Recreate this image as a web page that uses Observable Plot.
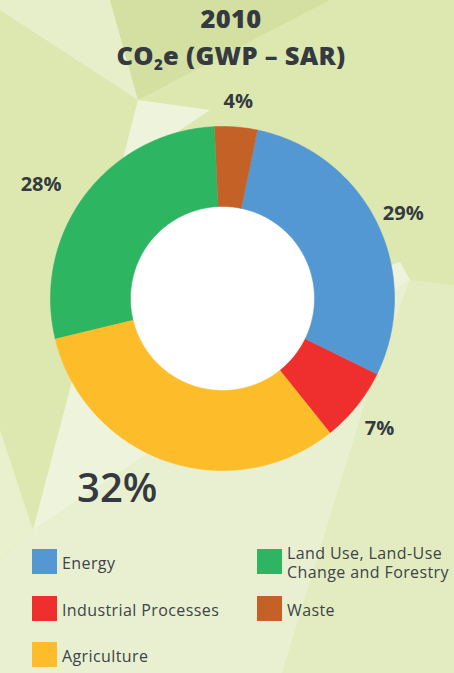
<!DOCTYPE html>
<html><head><meta charset="utf-8">
<script src="https://cdn.jsdelivr.net/npm/d3@7"></script>
<script src="https://cdn.jsdelivr.net/npm/@observablehq/plot@0.6"></script>
<style>
html,body{margin:0;padding:0;background:#dde8b0;}
body{width:454px;height:673px;overflow:hidden;font-family:"Open Sans",sans-serif;color:#343a40;}
#wrap{position:relative;width:454px;height:673px;}
#bg,#chart{position:absolute;left:0;top:0;}
#title{position:absolute;left:0;width:462px;top:0px;text-align:center;font-weight:800;font-size:25.5px;line-height:37px;letter-spacing:0.3px;color:#343a40;}
#title sub{font-size:15px;vertical-align:-5px;line-height:0;}
.item{position:absolute;display:flex;align-items:center;font-size:16px;line-height:19px;letter-spacing:0.4px;color:#3d4348;}
.item .tx{padding-top:3px;}
.sw{width:25px;height:25px;margin-right:5px;flex:none;}
</style>
</head><body>
<div id="wrap">
<svg id="bg" width="454" height="673">
  <rect width="454" height="673" fill="#dde8b0"/>
  <polygon points="0,0 110,0 138,100 0,10" fill="#e6efc9"/>
  <polygon points="110,0 330,0 138,100" fill="#d4e0a2"/>
  <polygon points="138,100 210,110 120,170" fill="#eef4dc"/>
  <polygon points="410,280 454,285 454,673 282,673 372,380" fill="#e3ecc0"/>
  <polygon points="33,530 75,370 400,262 410,280" fill="#eef4dc"/>
  <polygon points="33,530 410,280 372,380 282,673 0,673 0,560" fill="#e9f0d1"/>
  <polygon points="0,430 33,530 0,560" fill="#e8f0cd"/>
</svg>
<div id="chart"></div>
<div id="title">2010<br>CO<sub>2</sub>e (GWP – SAR)</div>
<div id="legend"></div>
</div>
<script>
const categories = ["Energy", "Industrial Processes", "Agriculture", "Land Use, Land-Use Change and Forestry", "Waste"];
const shares = [29, 7, 32, 28, 4];
const labels = ["29%", "7%", "32%", "28%", "4%"];
const colors = ["#5398d3", "#ee2f2d", "#fdbc29", "#2db562", "#c36126"];
const legendOrder = ["Energy", "Land Use, Land-Use Change and Forestry", "Industrial Processes", "Waste", "Agriculture"];

const W = 454, H = 673, cx = 222, cy = 298, R = 172;
const startAngle = 11.7 * Math.PI / 180;
const innerR = 0.535, labelR = 1.17;

const arcs = d3.pie().sort(null).startAngle(startAngle).endAngle(startAngle + 2 * Math.PI)(shares);
const ring = [];
arcs.forEach((a, i) => {
  const n = Math.max(4, Math.ceil((a.endAngle - a.startAngle) / 0.01));
  for (let k = 0; k <= n; k++) {
    const t = a.startAngle + (a.endAngle - a.startAngle) * k / n;
    ring.push({cat: categories[i], x: Math.sin(t), y: Math.cos(t)});
  }
  for (let k = n; k >= 0; k--) {
    const t = a.startAngle + (a.endAngle - a.startAngle) * k / n;
    ring.push({cat: categories[i], x: innerR * Math.sin(t), y: innerR * Math.cos(t)});
  }
});
const hole = d3.range(0, 361, 2).map(d => ({x: innerR * Math.sin(d * Math.PI / 180), y: innerR * Math.cos(d * Math.PI / 180)}));
const maxShare = d3.max(shares);
const lab = arcs.map((a, i) => {
  const m = (a.startAngle + a.endAngle) / 2;
  return {text: labels[i], x: labelR * Math.sin(m), y: labelR * Math.cos(m), left: Math.sin(m) < 0, big: shares[i] === maxShare};
});
const txt = {x: "x", y: "y", text: "text", fill: "#343a40", fontFamily: "Open Sans", dy: 4};

const plot = Plot.plot({
  width: W, height: H, margin: 0,
  x: {type: "linear", domain: [-cx / R, (W - cx) / R], range: [0, W], axis: null},
  y: {type: "linear", domain: [-(H - cy) / R, cy / R], range: [H, 0], axis: null},
  color: {domain: categories, range: colors},
  style: {background: "transparent"},
  marks: [
    Plot.line(hole, {x: "x", y: "y", fill: "white", stroke: "white", strokeWidth: 1}),
    Plot.line(ring, {x: "x", y: "y", z: "cat", fill: "cat", stroke: "cat", strokeWidth: 0.6, curve: "linear"}),
    Plot.text(lab.filter(d => !d.left && !d.big), {...txt, textAnchor: "middle", fontSize: 20, fontWeight: 700}),
    Plot.text(lab.filter(d => d.left && !d.big), {...txt, textAnchor: "end", fontSize: 20, fontWeight: 700, dy: 7}),
    Plot.text(lab.filter(d => d.big), {...txt, textAnchor: "end", fontSize: 40, fontWeight: 600, dy: 0})
  ]
});
document.getElementById("chart").appendChild(plot);

const legend = document.getElementById("legend");
const colX = [32, 257], rowY = [549, 596, 642];
legendOrder.forEach((name, i) => {
  const div = document.createElement("div");
  div.className = "item";
  div.style.left = colX[i % 2] + "px";
  div.style.top = rowY[Math.floor(i / 2)] + "px";
  div.style.height = "25px";
  const sw = document.createElement("div");
  sw.className = "sw";
  sw.style.background = colors[categories.indexOf(name)];
  const tx = document.createElement("div");
  tx.className = "tx";
  tx.innerHTML = name === "Land Use, Land-Use Change and Forestry" ? "Land Use, Land-Use<br>Change and Forestry" : name;
  div.appendChild(sw); div.appendChild(tx);
  legend.appendChild(div);
});
</script>
</body></html>
